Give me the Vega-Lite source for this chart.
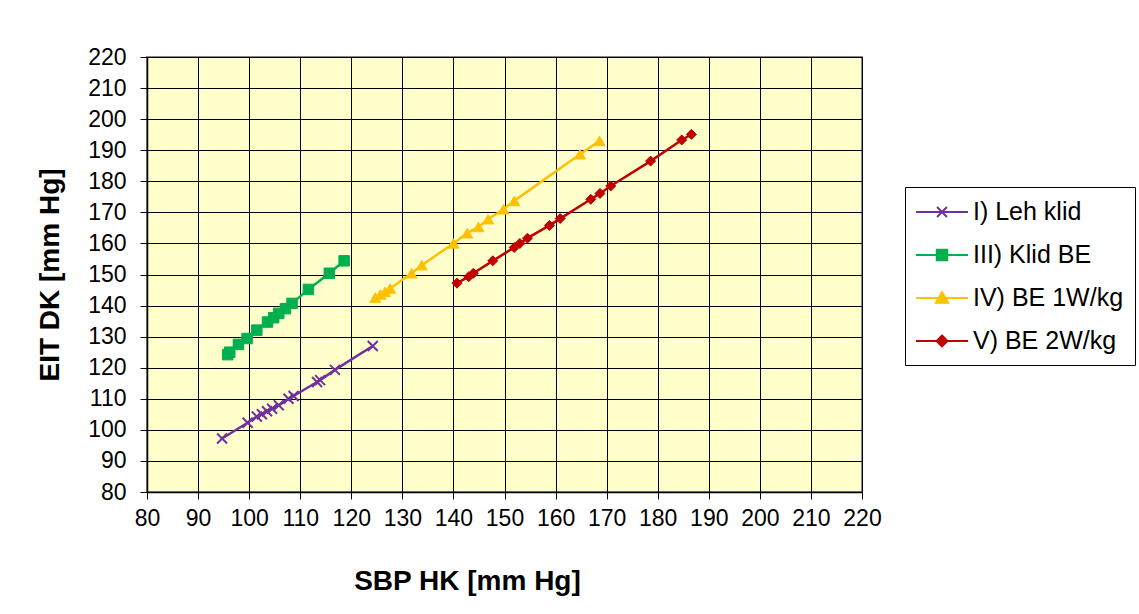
{
  "$schema": "https://vega.github.io/schema/vega-lite/v6.json",
  "width": 715,
  "height": 435,
  "autosize": {"type": "none"},
  "padding": {"left": 147, "top": 57, "right": 277, "bottom": 122},
  "background": "white",
  "config": {
    "font": "Liberation Sans",
    "view": {"stroke": "#888888", "strokeWidth": 2, "fill": "#FFFFCC"},
    "axis": {
      "grid": true, "gridColor": "#000000", "gridWidth": 1, "gridOpacity": 1,
      "domainColor": "#000000", "domainWidth": 1.5,
      "tickColor": "#000000", "tickSize": 7, "tickWidth": 1,
      "labelFont": "Liberation Sans", "labelFontSize": 23, "labelColor": "#000000", "labelOverlap": false, "labelFlush": false,
      "titleFont": "Liberation Sans", "titleFontSize": 28, "titleFontWeight": "bold", "titleColor": "#000000"
    }
  },
  "data": {"values": [
    {"s": "I) Leh klid", "x": 94.7, "y": 97.2},
    {"s": "I) Leh klid", "x": 99.7, "y": 102.3},
    {"s": "I) Leh klid", "x": 101.5, "y": 104.3},
    {"s": "I) Leh klid", "x": 102.5, "y": 105},
    {"s": "I) Leh klid", "x": 103.5, "y": 106},
    {"s": "I) Leh klid", "x": 104.5, "y": 106.8},
    {"s": "I) Leh klid", "x": 105.8, "y": 107.9},
    {"s": "I) Leh klid", "x": 107.7, "y": 110},
    {"s": "I) Leh klid", "x": 108.7, "y": 110.9},
    {"s": "I) Leh klid", "x": 113.3, "y": 115.4},
    {"s": "I) Leh klid", "x": 113.9, "y": 116},
    {"s": "I) Leh klid", "x": 116.8, "y": 119.3},
    {"s": "I) Leh klid", "x": 124.2, "y": 127},
    {"s": "III) Klid BE", "x": 95.8, "y": 124.2},
    {"s": "III) Klid BE", "x": 96.2, "y": 125},
    {"s": "III) Klid BE", "x": 97.9, "y": 127.5},
    {"s": "III) Klid BE", "x": 99.6, "y": 129.4},
    {"s": "III) Klid BE", "x": 101.5, "y": 132.1},
    {"s": "III) Klid BE", "x": 103.6, "y": 134.7},
    {"s": "III) Klid BE", "x": 104.8, "y": 136.1},
    {"s": "III) Klid BE", "x": 105.8, "y": 137.5},
    {"s": "III) Klid BE", "x": 107.1, "y": 139},
    {"s": "III) Klid BE", "x": 108.4, "y": 140.7},
    {"s": "III) Klid BE", "x": 111.6, "y": 145.2},
    {"s": "III) Klid BE", "x": 115.7, "y": 150.4},
    {"s": "III) Klid BE", "x": 118.6, "y": 154.4},
    {"s": "IV) BE 1W/kg", "x": 124.7, "y": 142.6},
    {"s": "IV) BE 1W/kg", "x": 125.7, "y": 143.6},
    {"s": "IV) BE 1W/kg", "x": 126.6, "y": 144.4},
    {"s": "IV) BE 1W/kg", "x": 127.6, "y": 145.5},
    {"s": "IV) BE 1W/kg", "x": 131.8, "y": 150.4},
    {"s": "IV) BE 1W/kg", "x": 133.8, "y": 153},
    {"s": "IV) BE 1W/kg", "x": 140, "y": 160},
    {"s": "IV) BE 1W/kg", "x": 142.7, "y": 163.3},
    {"s": "IV) BE 1W/kg", "x": 144.9, "y": 165.3},
    {"s": "IV) BE 1W/kg", "x": 146.8, "y": 167.8},
    {"s": "IV) BE 1W/kg", "x": 149.8, "y": 171},
    {"s": "IV) BE 1W/kg", "x": 151.9, "y": 173.7},
    {"s": "IV) BE 1W/kg", "x": 164.8, "y": 188.7},
    {"s": "IV) BE 1W/kg", "x": 168.6, "y": 193},
    {"s": "V) BE 2W/kg", "x": 140.7, "y": 147.2},
    {"s": "V) BE 2W/kg", "x": 143, "y": 149.3},
    {"s": "V) BE 2W/kg", "x": 143.9, "y": 150.4},
    {"s": "V) BE 2W/kg", "x": 147.7, "y": 154.4},
    {"s": "V) BE 2W/kg", "x": 151.9, "y": 158.7},
    {"s": "V) BE 2W/kg", "x": 153, "y": 160},
    {"s": "V) BE 2W/kg", "x": 154.5, "y": 161.7},
    {"s": "V) BE 2W/kg", "x": 158.8, "y": 165.8},
    {"s": "V) BE 2W/kg", "x": 160.9, "y": 168},
    {"s": "V) BE 2W/kg", "x": 166.9, "y": 174.2},
    {"s": "V) BE 2W/kg", "x": 168.7, "y": 176.1},
    {"s": "V) BE 2W/kg", "x": 170.8, "y": 178.5},
    {"s": "V) BE 2W/kg", "x": 178.6, "y": 186.5},
    {"s": "V) BE 2W/kg", "x": 184.7, "y": 193.3},
    {"s": "V) BE 2W/kg", "x": 186.6, "y": 195.1}
  ]},
  "encoding": {
    "x": {"field": "x", "type": "quantitative",
      "scale": {"domain": [80, 220], "nice": false, "zero": false},
      "axis": {"values": [80,90,100,110,120,130,140,150,160,170,180,190,200,210,220], "title": "SBP HK [mm Hg]", "labelPadding": 8, "titlePadding": 37, "titleX": 320}},
    "y": {"field": "y", "type": "quantitative",
      "scale": {"domain": [80, 220], "nice": false, "zero": false},
      "axis": {"values": [80,90,100,110,120,130,140,150,160,170,180,190,200,210,220], "title": "EIT DK [mm Hg]", "labelPadding": 14, "titlePadding": 23}},
    "color": {"field": "s", "type": "nominal",
      "scale": {"domain": ["I) Leh klid", "III) Klid BE", "IV) BE 1W/kg", "V) BE 2W/kg"], "range": ["#7030A0", "#00B050", "#FFC000", "#C00000"]},
      "legend": {
        "title": null, "orient": "none", "legendX": 758, "legendY": 130,
        "strokeColor": "#000000", "fillColor": "#FFFFFF", "padding": 11,
        "labelFont": "Liberation Sans", "labelFontSize": 25, "labelColor": "#000000",
        "symbolSize": 676, "symbolOffset": 12, "labelOffset": 17, "rowPadding": 16,
        "encode": {"symbols": {"update": {
          "shape": {"signal": "datum.value === 'I) Leh klid' ? 'M-2,0H2M-0.38,-0.38L0.38,0.38M-0.38,0.38L0.38,-0.38' : datum.value === 'III) Klid BE' ? 'M-2,0H2M-0.4,-0.4H0.4V0.4H-0.4Z' : datum.value === 'IV) BE 1W/kg' ? 'M-2,0H2M0,-0.46L0.46,0.36H-0.46Z' : 'M-2,0H2M0,-0.42L0.42,0L0,0.42L-0.42,0Z'"},
          "fill": {"signal": "scale('color', datum.value)"},
          "stroke": {"signal": "scale('color', datum.value)"},
          "strokeWidth": {"value": 2},
          "fillOpacity": {"value": 1},
          "opacity": {"value": 1}
        }}}
      }}
  },
  "layer": [
    {"mark": {"type": "line", "strokeWidth": 2.5}},
    {"transform": [{"filter": "datum.s === 'I) Leh klid'"}],
     "mark": {"type": "point", "filled": true, "size": 100, "shape": "M-1,-1L1,1M-1,1L1,-1", "stroke": "#7030A0", "strokeWidth": 2, "opacity": 1}},
    {"transform": [{"filter": "datum.s === 'III) Klid BE'"}],
     "mark": {"type": "point", "filled": true, "size": 110, "shape": "square", "stroke": "#00B050", "strokeWidth": 1, "opacity": 1}},
    {"transform": [{"filter": "datum.s === 'IV) BE 1W/kg'"}],
     "mark": {"type": "point", "filled": true, "size": 120, "shape": "triangle-up", "stroke": "#FFC000", "strokeWidth": 1, "opacity": 1}},
    {"transform": [{"filter": "datum.s === 'V) BE 2W/kg'"}],
     "mark": {"type": "point", "filled": true, "size": 100, "shape": "diamond", "stroke": "#C00000", "strokeWidth": 1, "opacity": 1}}
  ]
}
